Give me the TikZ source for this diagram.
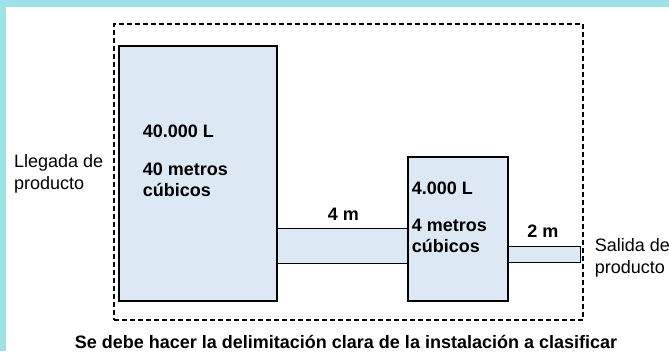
\documentclass[tikz,border=0pt]{standalone}
\usepackage{fontspec}
\setmainfont{Liberation Sans}
\definecolor{frameband}{RGB}{157,225,233}
\definecolor{tankfill}{RGB}{221,232,245}
\tikzset{
  tank/.style={draw=black, line width=1.8pt, fill=tankfill, inner sep=0pt},
  pipe/.style={draw=black, line width=1pt, fill=tankfill},
  zone/.style={draw=black, line width=1.3pt, dash pattern=on 5pt off 3pt, inner sep=0pt},
  lbl/.style={font=\fontsize{18}{21.6}\selectfont, anchor=base west, inner sep=0pt},
  blbl/.style={font=\fontsize{18}{21.6}\selectfont\bfseries, anchor=base west, inner sep=0pt},
}
\begin{document}
\begin{tikzpicture}[x=1pt,y=-1pt]
    \useasboundingbox (0,0) rectangle (669,351);
    \fill[frameband] (0,0) rectangle (669,7);
    \fill[frameband] (0,0) rectangle (6,351);

    % zona a clasificar
    \node[zone, minimum width=469pt, minimum height=296pt] (zona) at (348.5,172) {};

    % tanques
    \node[tank, minimum width=158pt, minimum height=255pt] (tanque1) at (198,173.5) {};
    \node[tank, minimum width=100pt, minimum height=144pt] (tanque2) at (458,229) {};

    % tuberias
    \coordinate (t1arriba) at (0,228);
    \coordinate (t1abajo) at (0,263);
    \coordinate (t2arriba) at (0,246);
    \coordinate (salida) at (580,262);
    \filldraw[pipe] (tanque1.east |- t1arriba) rectangle (tanque2.west |- t1abajo);
    \filldraw[pipe] (tanque2.east |- t2arriba) rectangle (salida);

    \node[blbl] (vol1) at (142.7,137) {40.000 L};
    \node[blbl] (cap1) at (142.7,175) {40 metros};
    \node[blbl] (cub1) at (142.7,196) {cúbicos};

    \node[blbl] (vol2) at (411.7,194) {4.000 L};
    \node[blbl] (cap2) at (411.7,231.7) {4 metros};
    \node[blbl] (cub2) at (411.7,252.7) {cúbicos};

    \node[blbl, anchor=base] (largo1) at (343.3,220) {4 m};
    \node[blbl, anchor=base] (largo2) at (543,237.7) {2 m};

    \node[lbl] (llegada) at (14,167.7) {Llegada de};
    \node[lbl] (llegada2) at (14,189.3) {producto};
    \node[lbl] (sal) at (594.7,251.7) {Salida de};
    \node[lbl] (sal2) at (594.7,273.3) {producto};

    \node[blbl, anchor=base] (nota) at (346,348.5) {Se debe hacer la delimitación clara de la instalación a clasificar};
\end{tikzpicture}
\end{document}
